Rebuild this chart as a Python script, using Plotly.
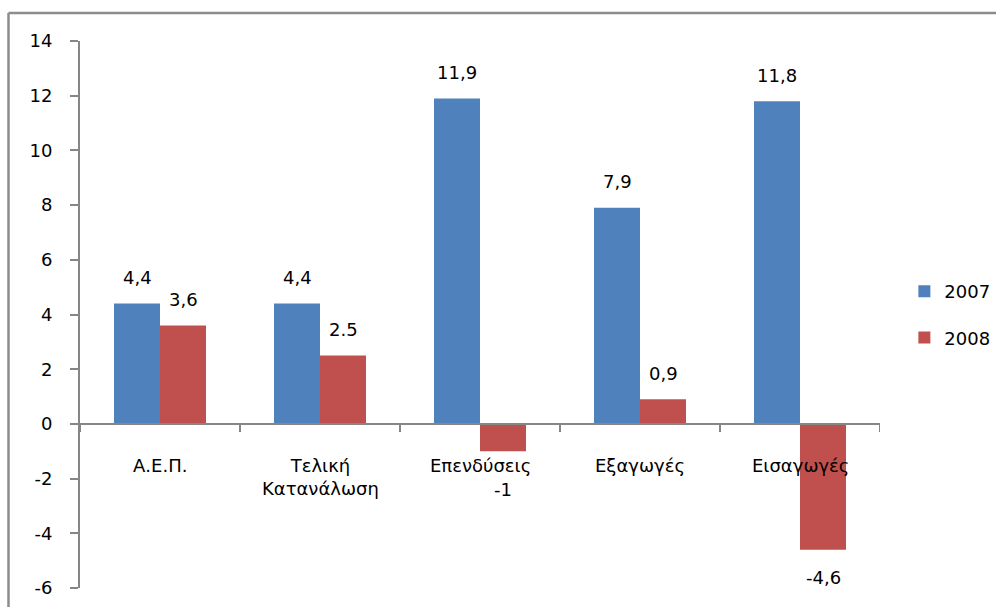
import plotly.graph_objects as go

categories = ["Α.Ε.Π.", "Τελική<br>Κατανάλωση", "Επενδύσεις", "Εξαγωγές", "Εισαγωγές"]
series_names = ["2007", "2008"]
values_2007 = [4.4, 4.4, 11.9, 7.9, 11.8]
values_2008 = [3.6, 2.5, -1, 0.9, -4.6]
labels_2007 = ["4,4", "4,4", "11,9", "7,9", "11,8"]
labels_2008 = ["3,6", "2.5", "-1", "0,9", "-4,6"]
y_ticks = [-6, -4, -2, 0, 2, 4, 6, 8, 10, 12, 14]

BLUE = "#4F81BD"
RED = "#C0504D"
AXIS = "#868686"
FONT = "DejaVu Sans, Verdana, sans-serif"
FS = 18

# plot area geometry in pixels
W, H = 996, 607
ML, MR, MT, MB = 80, 116, 41, 19
PW = W - ML - MR
PH = H - MT - MB
px_per_unit = PH / (y_ticks[-1] - y_ticks[0])

idx = list(range(len(categories)))

fig = go.Figure()
for name, vals, color in [(series_names[0], values_2007, BLUE),
                          (series_names[1], values_2008, RED)]:
    fig.add_trace(go.Bar(
        x=idx, y=vals, name=name, marker=dict(color=color, line=dict(width=0)),
        legendgroup=name, hoverinfo="skip",
    ))


def label_shift(v):
    """Vertical pixel offset of a value label from the bar end."""
    if v >= 0:
        return 26
    # below negative bars, keep clear of the first line of category text
    return -max(28, 66 - abs(v) * px_per_unit)


annotations = []
# value labels above / below each bar
bar_px = 46
for vals, labels, offset in [(values_2007, labels_2007, -bar_px / 2),
                             (values_2008, labels_2008, bar_px / 2)]:
    for i, (v, t) in enumerate(zip(vals, labels)):
        annotations.append(dict(
            x=i, y=v, xref="x", yref="y", text=t, showarrow=False,
            xshift=offset, yshift=label_shift(v),
            yanchor="middle", xanchor="center",
            font=dict(family=FONT, size=FS, color="#000000"),
        ))

# category labels just under the zero line
for i, c in enumerate(categories):
    annotations.append(dict(
        x=i, y=0, xref="x", yref="y", text=c, showarrow=False,
        yanchor="top", xanchor="center", yshift=-29,
        font=dict(family=FONT, size=FS, color="#000000"),
    ))

shapes = []
# category boundary ticks hanging from the zero line
tick_units = 8 / px_per_unit
for b in [i - 0.5 for i in range(len(categories) + 1)]:
    shapes.append(dict(type="line", xref="x", yref="y", x0=b, x1=b,
                       y0=0, y1=-tick_units, line=dict(color=AXIS, width=2)))
# zero line across the plot
shapes.append(dict(type="line", xref="paper", yref="y", x0=0, x1=1, y0=0, y1=0,
                   line=dict(color=AXIS, width=2)))
# chart frame (left and top edges)
fx = (8.5 - ML) / PW
fy = 1 + (MT - 13) / PH
shapes.append(dict(type="line", xref="paper", yref="paper", x0=fx, x1=fx,
                   y0=fy, y1=-0.1, line=dict(color="#8C8C8C", width=2.5)))
shapes.append(dict(type="line", xref="paper", yref="paper", x0=fx, x1=1.3,
                   y0=fy, y1=fy, line=dict(color="#8C8C8C", width=2.5)))

fig.update_layout(
    width=W, height=H,
    margin=dict(l=ML, r=MR, t=MT, b=MB, pad=0, autoexpand=False),
    paper_bgcolor="white", plot_bgcolor="white",
    barmode="group", bargap=0.425, bargroupgap=0,
    showlegend=True,
    legend=dict(xref="container", yref="container", x=0.908, y=0.482,
                xanchor="left", yanchor="middle",
                font=dict(family=FONT, size=FS, color="#000000"),
                tracegroupgap=20, traceorder="grouped",
                itemwidth=30, bgcolor="rgba(0,0,0,0)"),
    xaxis=dict(range=[-0.5, len(categories) - 0.5], showticklabels=False,
               showline=False, showgrid=False, zeroline=False, ticks=""),
    yaxis=dict(range=[y_ticks[0], y_ticks[-1]], tickvals=y_ticks,
               ticktext=[str(t) for t in y_ticks],
               showgrid=False, zeroline=False, showline=True,
               linecolor=AXIS, linewidth=2, ticks="outside", ticklen=8,
               tickcolor=AXIS, tickwidth=2, ticklabelstandoff=14,
               tickfont=dict(family=FONT, size=FS, color="#000000")),
    annotations=annotations, shapes=shapes,
    font=dict(family=FONT),
)

fig.write_html("out.html")
